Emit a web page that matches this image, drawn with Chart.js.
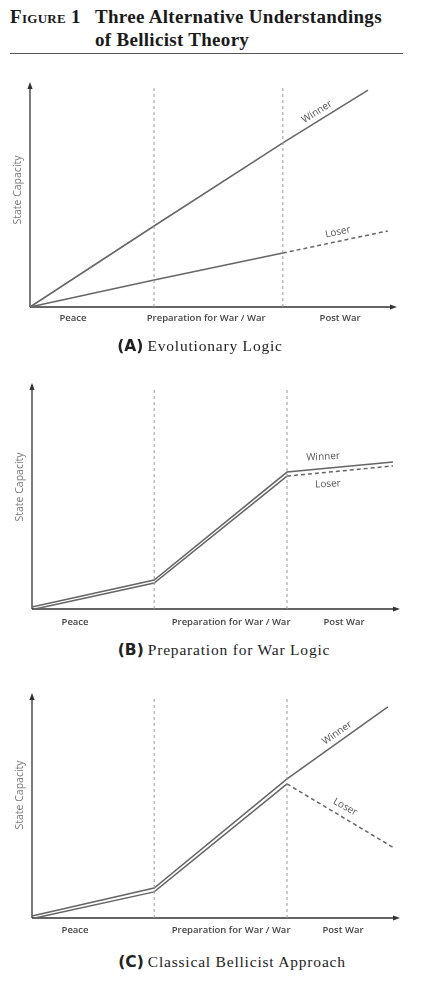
<!DOCTYPE html>
<html>
<head>
<meta charset="utf-8">
<script src="https://cdn.jsdelivr.net/npm/chart.js@4.4.1/dist/chart.umd.min.js"></script>
<style>
  html, body { margin: 0; padding: 0; background: #fff; }
  #page { position: relative; width: 429px; height: 982px; overflow: hidden; }
  canvas { position: absolute; left: 0; }
  .title { position: absolute; font-family: "Liberation Serif", "DejaVu Serif", serif; font-weight: bold; font-size: 19px; letter-spacing: 0.3px; color: #1a1a1a; white-space: nowrap; line-height: 22px; }
  .rule { position: absolute; left: 10px; width: 393px; top: 53px; height: 0; border-top: 1px solid #555; }
  .caption { position: absolute; transform: translate(-50%, -50%); white-space: nowrap; color: #222; }
  .caption b { font-family: "DejaVu Sans", "Liberation Sans", sans-serif; font-weight: bold; font-size: 15.5px; }
  .caption span { font-family: "Liberation Serif", "DejaVu Serif", serif; font-size: 15.5px; letter-spacing: 0.8px; }
</style>
</head>
<body>
<div id="page">
  <div class="title" style="left:10px; top:6px;"><span style="font-variant: small-caps;">Figure 1</span></div>
  <div class="title" style="left:95px; top:6px;">Three Alternative Understandings</div>
  <div class="title" style="left:95px; top:29px;">of Bellicist Theory</div>
  <div class="rule"></div>

  <canvas id="chartA" width="429" height="280" style="top:60px"></canvas>
  <div class="caption" style="left:200px; top:346px;"><b>(A)</b> <span>Evolutionary Logic</span></div>

  <canvas id="chartB" width="429" height="270" style="top:370px"></canvas>
  <div class="caption" style="left:224px; top:650px;"><b>(B)</b> <span>Preparation for War Logic</span></div>

  <canvas id="chartC" width="429" height="270" style="top:680px"></canvas>
  <div class="caption" style="left:232px; top:962px;"><b>(C)</b> <span>Classical Bellicist Approach</span></div>
</div>

<script>
// ---------- data ----------
const categories = ['Peace', 'Preparation for War / War', 'Post War'];
const yTitle = 'State Capacity';

// Panel A: Evolutionary Logic
const aTickPos = [11.7, 48.0, 84.5];
const aPhases = [33.8, 68.9];
const aWinnerX = [0, 33.8, 68.9, 92.1];
const aWinnerY = [0, 36.0, 72.9, 96.4];
const aLoserX = [0, 33.8, 68.9, 97.5];
const aLoserY = [0, 12.0, 24.0, 33.8];

// Panel B: Preparation for War Logic
const bTickPos = [11.7, 54.1, 84.8];
const bPhases = [33.2, 69.3];
const bWinnerX = [0, 33.2, 69.3, 98.1];
const bWinnerY = [0.9, 12.8, 60.6, 65.0];
const bLoserX = [0.8, 33.2, 69.3, 98.1];
const bLoserY = [0, 11.5, 58.8, 63.3];

// Panel C: Classical Bellicist Approach
const cTickPos = [11.7, 54.1, 84.5];
const cPhases = [33.2, 69.3];
const cWinnerX = [0, 33.2, 69.3, 96.7];
const cWinnerY = [0.9, 13.3, 61.8, 93.8];
const cLoserX = [0.8, 33.2, 69.3, 98.4];
const cLoserY = [0, 11.6, 59.6, 31.1];

// ---------- helpers ----------
const pts = (xs, ys) => xs.map((x, i) => ({ x: x, y: ys[i] }));

const decor = {
  id: 'decor',
  beforeDatasetsDraw(chart) {
    const { ctx, chartArea: { left, right, top, bottom } } = chart;
    ctx.save();
    ctx.strokeStyle = '#333';
    ctx.fillStyle = '#333';
    ctx.lineWidth = 1.3;
    ctx.beginPath();
    ctx.moveTo(left, bottom);
    ctx.lineTo(right - 5, bottom);
    ctx.moveTo(left, bottom);
    ctx.lineTo(left, top + 5);
    ctx.stroke();
    ctx.beginPath();
    ctx.moveTo(right, bottom);
    ctx.lineTo(right - 7, bottom - 2.6);
    ctx.lineTo(right - 7, bottom + 2.6);
    ctx.closePath();
    ctx.fill();
    ctx.beginPath();
    ctx.moveTo(left, top);
    ctx.lineTo(left - 2.6, top + 7);
    ctx.lineTo(left + 2.6, top + 7);
    ctx.closePath();
    ctx.fill();
    ctx.restore();
  },
  afterDraw(chart) {
    const o = chart.options.plugins.decor;
    const { ctx, chartArea: { left, bottom }, scales: { x, y } } = chart;
    ctx.save();
    ctx.font = '600 9.5px "Open Sans", "Liberation Sans", sans-serif';
    ctx.fillStyle = '#444';
    ctx.textAlign = 'center';
    ctx.textBaseline = 'middle';
    o.ticks.forEach((p, i) => {
      ctx.fillText(categories[i], x.getPixelForValue(p), bottom + o.tickOffset);
    });
    ctx.save();
    ctx.font = '10.5px "Open Sans", "Liberation Sans", sans-serif';
    ctx.fillStyle = '#777';
    ctx.translate(left - o.yTitleOffset, y.getPixelForValue(o.yTitlePos));
    ctx.rotate(-Math.PI / 2);
    ctx.fillText(yTitle, 0, 0);
    ctx.restore();
    ctx.font = '10px "Open Sans", "Liberation Sans", sans-serif';
    ctx.fillStyle = '#555';
    o.notes.forEach(n => {
      ctx.save();
      ctx.translate(x.getPixelForValue(n.x), y.getPixelForValue(n.y));
      ctx.rotate(n.rot * Math.PI / 180);
      ctx.fillText(n.text, 0, 0);
      ctx.restore();
    });
    ctx.restore();
  }
};

function makeChart(id, pad, phases, phaseTop, wX, wY, lX, lY, ticks, tickOffset, yTitlePos, notes) {
  const phaseSets = phases.map(p => ({
    data: [{ x: p, y: 0 }, { x: p, y: phaseTop }],
    borderColor: '#9a9a9a', borderWidth: 1, borderDash: [3, 3],
    pointRadius: 0, showLine: true, clip: false
  }));
  new Chart(document.getElementById(id), {
    type: 'scatter',
    data: {
      datasets: phaseSets.concat([
        { label: 'Winner', data: pts(wX, wY), borderColor: '#666', borderWidth: 1.5,
          pointRadius: 0, showLine: true, clip: false },
        { label: 'Loser', data: pts(lX, lY), borderColor: '#666', borderWidth: 1.5,
          pointRadius: 0, showLine: true, clip: false,
          segment: { borderDash: c => c.p0DataIndex >= 2 ? [4, 3] : undefined } }
      ])
    },
    options: {
      responsive: false, animation: false, devicePixelRatio: 1,
      layout: { padding: pad },
      scales: {
        x: { type: 'linear', min: 0, max: 100, display: false },
        y: { type: 'linear', min: 0, max: 100, display: false }
      },
      plugins: {
        legend: { display: false }, tooltip: { enabled: false },
        decor: { ticks: ticks, tickOffset: tickOffset, yTitlePos: yTitlePos, yTitleOffset: 12, notes: notes }
      }
    },
    plugins: [decor]
  });
}

makeChart('chartA', { left: 30, right: 32, top: 22, bottom: 33 }, aPhases, 98.7,
  aWinnerX, aWinnerY, aLoserX, aLoserY, aTickPos, 11, 52,
  [{ text: 'Winner', x: 78.2, y: 86.7, rot: -32 }, { text: 'Loser', x: 83.9, y: 33.3, rot: -12 }]);

makeChart('chartB', { left: 32, right: 29, top: 13, bottom: 31 }, bPhases, 97.8,
  bWinnerX, bWinnerY, bLoserX, bLoserY, bTickPos, 13, 54,
  [{ text: 'Winner', x: 79.1, y: 67.3, rot: -3 }, { text: 'Loser', x: 80.4, y: 55.3, rot: -3 }]);

makeChart('chartC', { left: 32, right: 29, top: 13, bottom: 32 }, cPhases, 98.2,
  cWinnerX, cWinnerY, cLoserX, cLoserY, cTickPos, 12, 54.7,
  [{ text: 'Winner', x: 82.9, y: 82.2, rot: -35 }, { text: 'Loser', x: 85.1, y: 49.3, rot: 29 }]);
</script>
</body>
</html>
